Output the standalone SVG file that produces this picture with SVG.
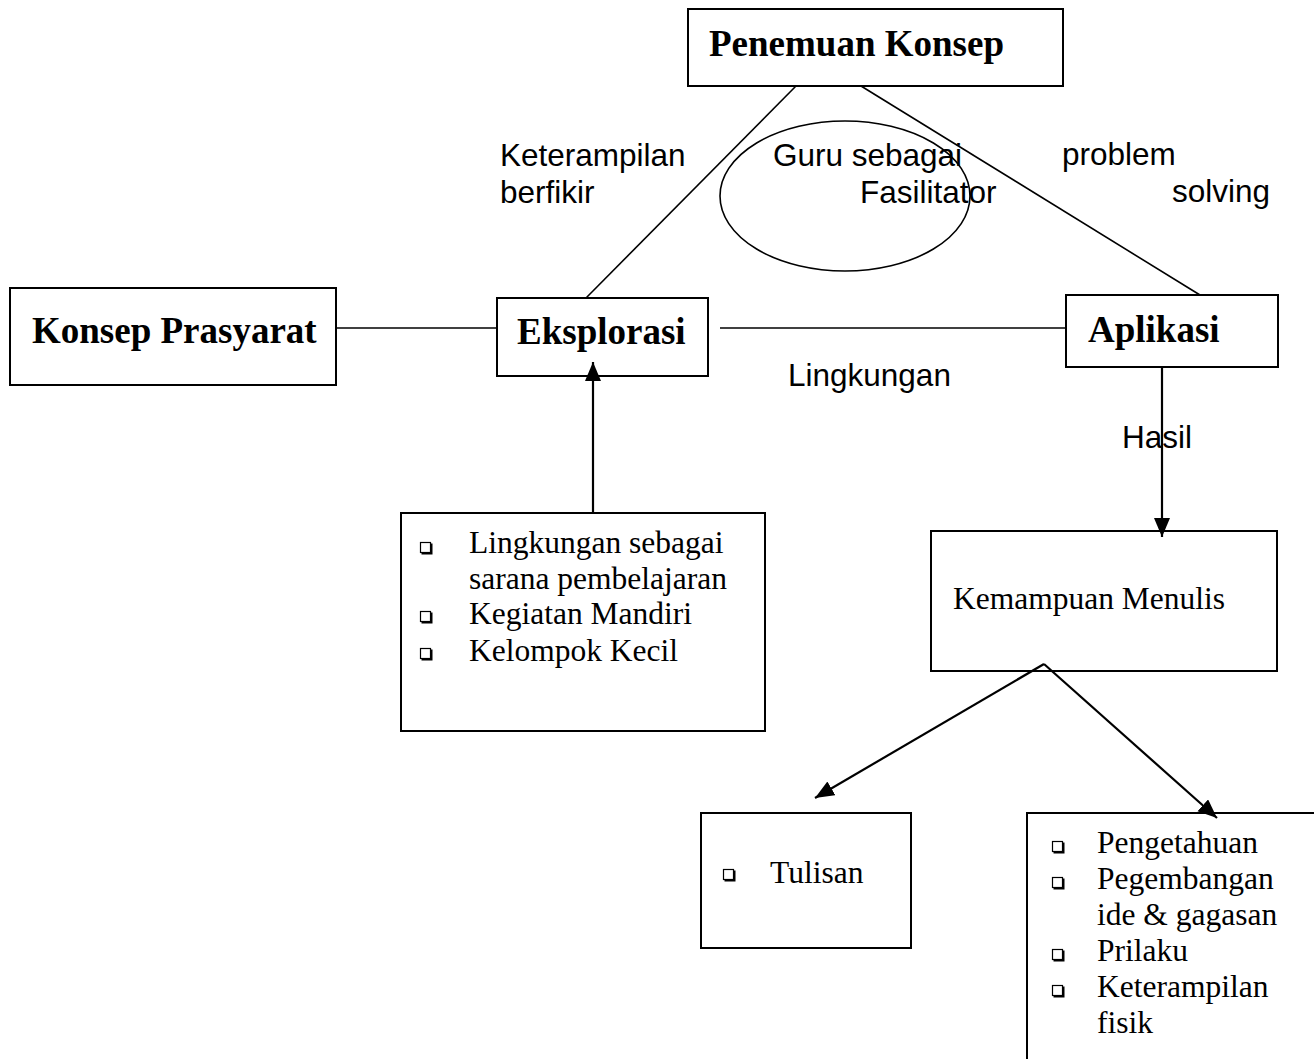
<svg xmlns="http://www.w3.org/2000/svg" width="1314" height="1059" viewBox="0 0 1314 1059">
<style>
.box{fill:#fff;stroke:#000;stroke-width:2}
.ln{fill:none;stroke:#000;stroke-width:1.6}
.arw{fill:none;stroke:#000;stroke-width:2.2}
.tb{font-family:"Liberation Serif","Times New Roman",serif;font-weight:bold;font-size:37px;fill:#000}
.tr{font-family:"Liberation Serif","Times New Roman",serif;font-size:31.5px;fill:#000}
.ts{font-family:"Liberation Sans",Arial,sans-serif;font-size:31.5px;fill:#000}
</style>
<defs>
<marker id="ah" markerUnits="userSpaceOnUse" markerWidth="22" markerHeight="18" refX="19" refY="8" orient="auto">
<path d="M0,0 L19,8 L0,16 z" fill="#000"/>
</marker>
<g id="bul">
<rect x="0.5" y="0.5" width="10" height="10" fill="none" stroke="#000" stroke-width="1.2"/>
<path d="M1.5,11.5 H11.5 V1.5" fill="none" stroke="#000" stroke-width="2"/>
</g>
</defs>

<g id="ellipse-guru">
<ellipse cx="845" cy="196" rx="125" ry="75" fill="none" stroke="#000" stroke-width="1.6"/>
</g>

<g id="labels">
<text class="ts" x="500" y="166">Keterampilan</text>
<text class="ts" x="500" y="203">berfikir</text>
<text class="ts" x="773" y="166">Guru sebagai</text>
<text class="ts" x="860" y="203">Fasilitator</text>
<text class="ts" x="1062" y="165">problem</text>
<text class="ts" x="1172" y="202">solving</text>
<text class="ts" x="788" y="386">Lingkungan</text>
<text class="ts" x="1122" y="448">Hasil</text>
</g>

<g id="node-penemuan">
<rect class="box" x="688" y="9" width="375" height="77"/>
<text class="tb" x="709" y="56">Penemuan Konsep</text>
</g>

<g id="node-prasyarat">
<rect class="box" x="10" y="288" width="326" height="97"/>
<text class="tb" x="32" y="343">Konsep Prasyarat</text>
</g>

<g id="node-eksplorasi">
<rect class="box" x="497" y="298" width="211" height="78"/>
<text class="tb" x="517" y="344">Eksplorasi</text>
</g>

<g id="node-aplikasi">
<rect class="box" x="1066" y="295" width="212" height="72"/>
<text class="tb" x="1088" y="342">Aplikasi</text>
</g>

<g id="node-lingkungan">
<rect class="box" x="401" y="513" width="364" height="218"/>
<use href="#bul" x="420" y="542"/>
<text class="tr" x="469" y="553">Lingkungan sebagai</text>
<text class="tr" x="469" y="589">sarana pembelajaran</text>
<use href="#bul" x="420" y="611"/>
<text class="tr" x="469" y="624">Kegiatan Mandiri</text>
<use href="#bul" x="420" y="648"/>
<text class="tr" x="469" y="661">Kelompok Kecil</text>
</g>

<g id="node-kemampuan">
<rect class="box" x="931" y="531" width="346" height="140"/>
<text class="tr" x="953" y="609">Kemampuan Menulis</text>
</g>

<g id="node-tulisan">
<rect class="box" x="701" y="813" width="210" height="135"/>
<use href="#bul" x="723" y="869"/>
<text class="tr" x="770" y="883">Tulisan</text>
</g>

<g id="node-hasil-list">
<path d="M1314,813 H1027 V1059" fill="none" stroke="#000" stroke-width="2"/>
<use href="#bul" x="1052" y="841"/>
<text class="tr" x="1097" y="853">Pengetahuan</text>
<use href="#bul" x="1052" y="877"/>
<text class="tr" x="1097" y="889">Pegembangan</text>
<text class="tr" x="1097" y="925">ide &amp; gagasan</text>
<use href="#bul" x="1052" y="949"/>
<text class="tr" x="1097" y="961">Prilaku</text>
<use href="#bul" x="1052" y="985"/>
<text class="tr" x="1097" y="997">Keterampilan</text>
<text class="tr" x="1097" y="1033">fisik</text>
</g>

<g id="connectors">
<line class="ln" x1="336" y1="328" x2="497" y2="328"/>
<line class="ln" x1="720" y1="328" x2="1066" y2="328"/>
<line class="ln" x1="796" y1="86" x2="586" y2="298"/>
<line class="ln" x1="861" y1="86" x2="1200" y2="295"/>
<line class="arw" x1="593" y1="513" x2="593" y2="362" marker-end="url(#ah)"/>
<line class="arw" x1="1162" y1="367" x2="1162" y2="537" marker-end="url(#ah)"/>
<line class="arw" x1="1044" y1="664" x2="815" y2="798" marker-end="url(#ah)"/>
<line class="arw" x1="1044" y1="664" x2="1217" y2="818" marker-end="url(#ah)"/>
</g>
</svg>
